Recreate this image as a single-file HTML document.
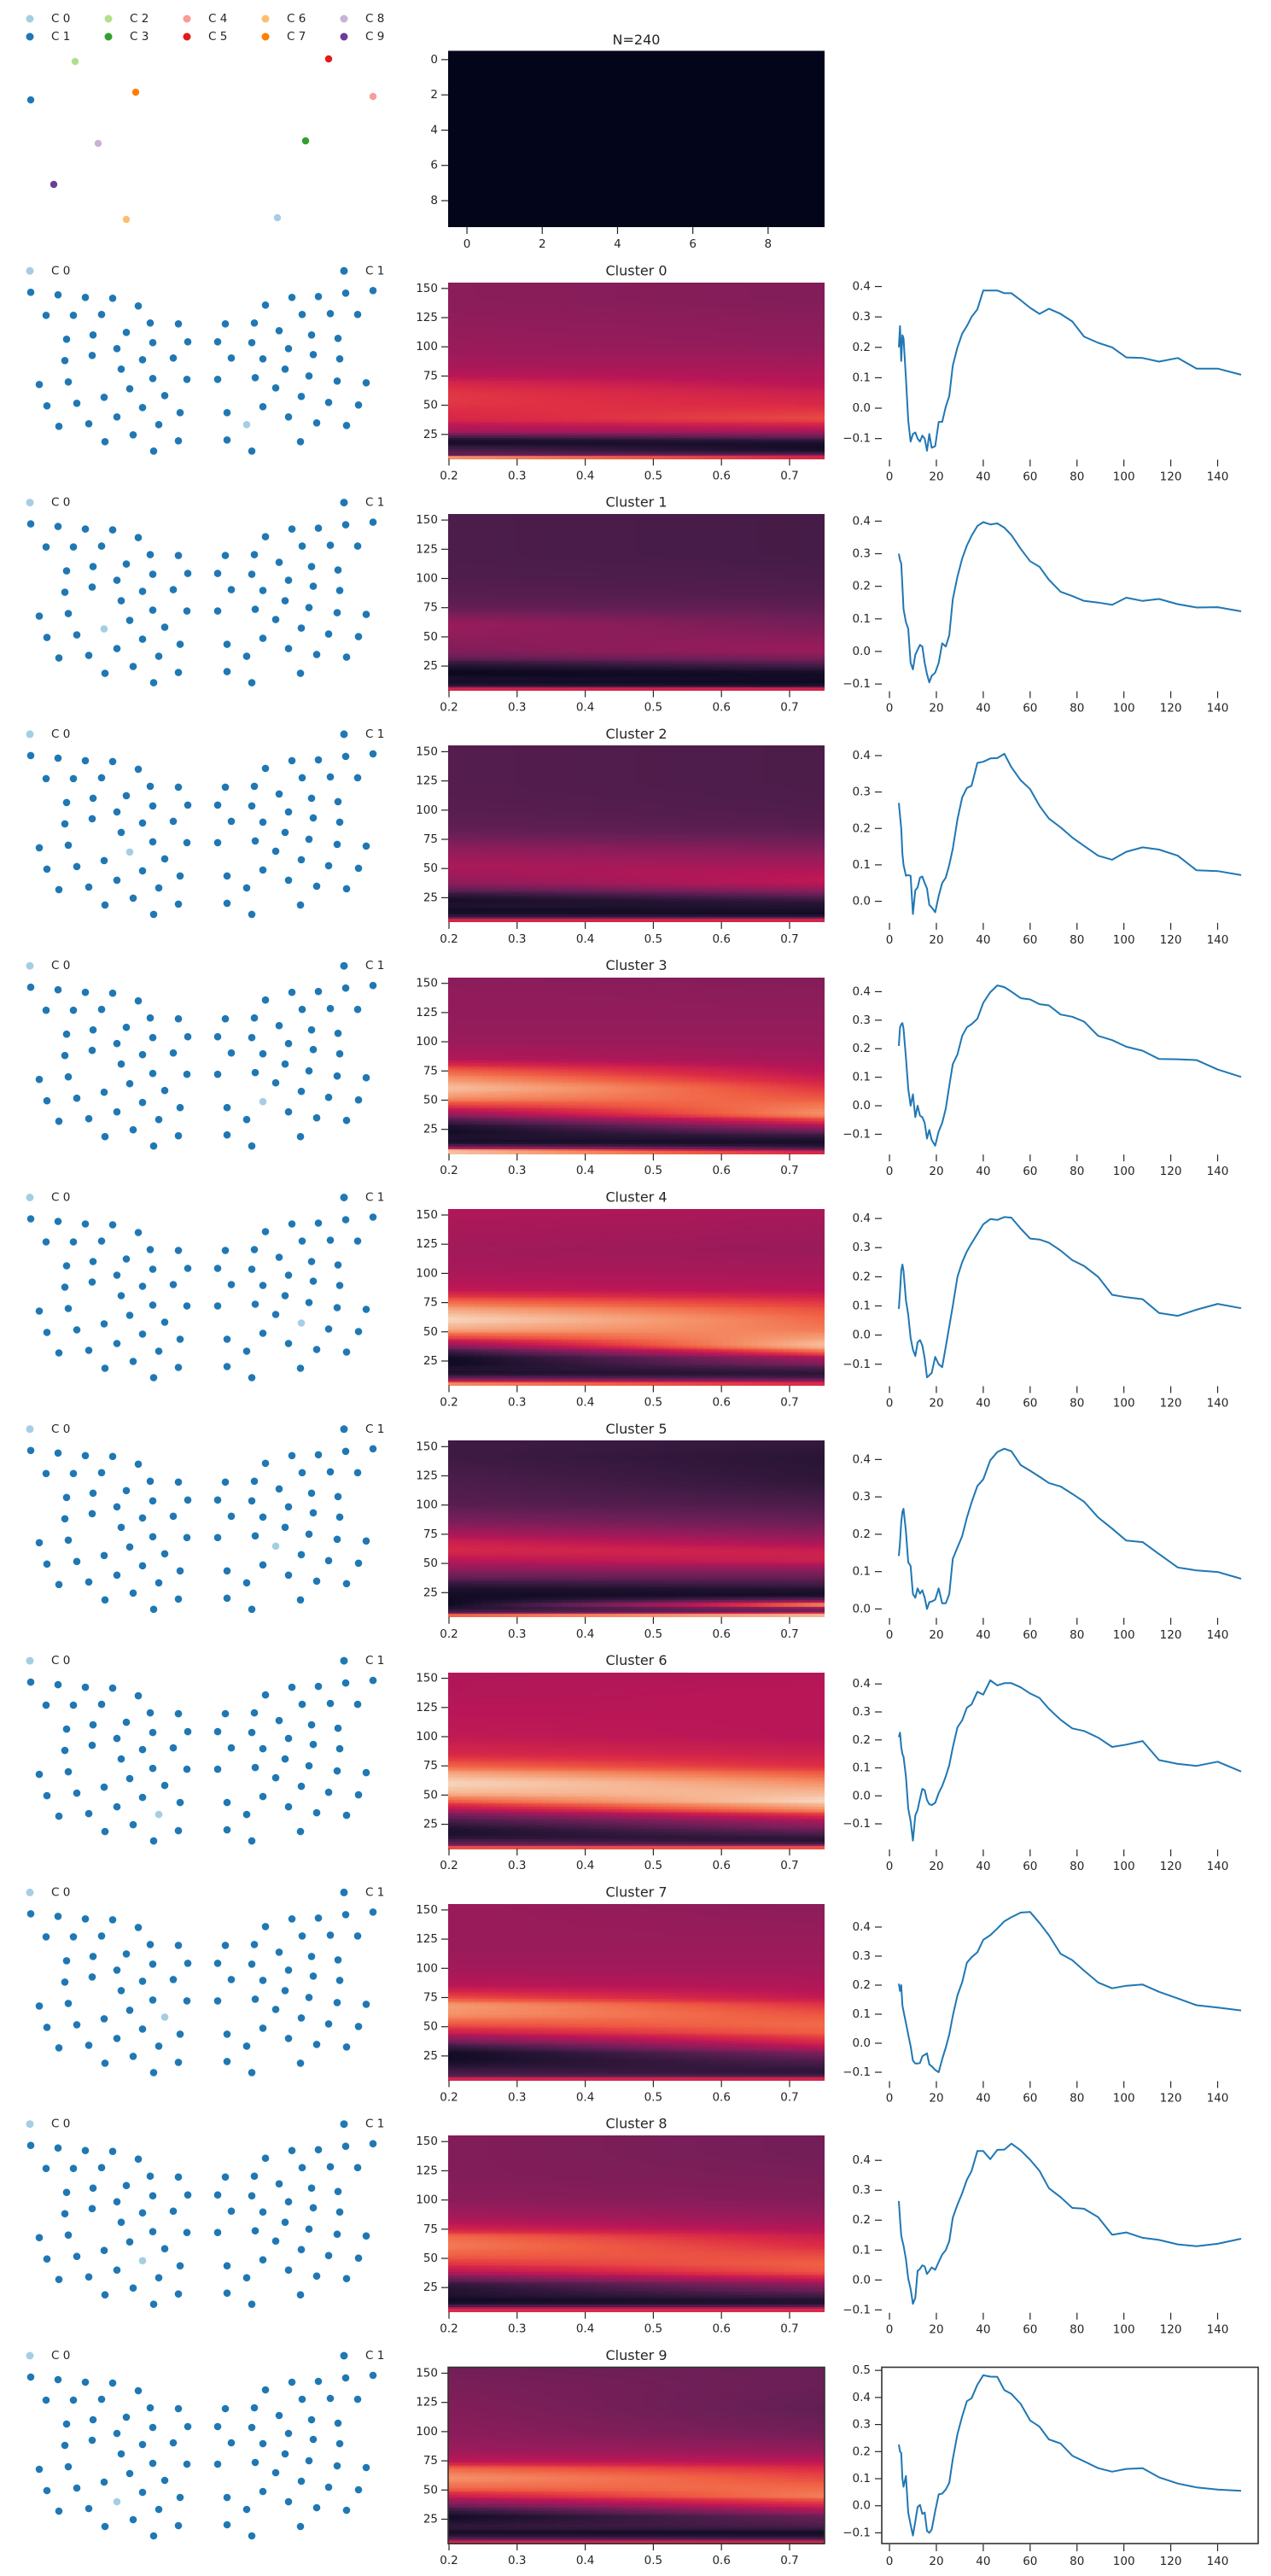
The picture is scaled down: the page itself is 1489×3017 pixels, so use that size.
<!DOCTYPE html>
<html><head><meta charset="utf-8"><title>Cluster figure</title>
<style>
html,body{margin:0;padding:0;background:#fff;}
#root{position:relative;width:1489px;height:3017px;overflow:hidden;background:#fff;}
canvas{position:absolute;}
#fig{position:absolute;left:0;top:0;}
text{font-family:"DejaVu Sans","Liberation Sans",sans-serif;fill:#262626;}
</style></head>
<body>
<div id="root">
<svg id="fig" width="1489" height="3017" xmlns="http://www.w3.org/2000/svg"></svg>
</div>
<script>
// ---------- line plot data ----------
const freqs=[4,4.5,5,5.5,6,7,8,9,10,11,12,13,14,15,16,17,18,19.5,21,22.5,24,25.5,27,29,31,33,35,37.5,40,43,46,49,52,56,60,64,68,73,78,83,89,95,101,108,115,123,131,140,150];
const corr0=[0.20,0.27,0.155,0.24,0.23,0.10,-0.04,-0.11,-0.085,-0.08,-0.10,-0.11,-0.09,-0.10,-0.14,-0.085,-0.13,-0.125,-0.045,-0.045,0.005,0.04,0.14,0.20,0.245,0.27,0.30,0.325,0.387,0.387,0.387,0.378,0.378,0.355,0.33,0.31,0.327,0.31,0.285,0.235,0.215,0.20,0.167,0.165,0.153,0.165,0.13,0.13,0.11];
const corr1=[0.30,0.28,0.27,0.20,0.13,0.09,0.07,-0.035,-0.055,-0.01,0.005,0.02,0.015,-0.035,-0.07,-0.095,-0.075,-0.065,-0.035,0.025,0.015,0.05,0.16,0.23,0.285,0.325,0.355,0.385,0.397,0.39,0.393,0.38,0.357,0.315,0.277,0.26,0.22,0.183,0.17,0.155,0.15,0.143,0.165,0.155,0.161,0.145,0.135,0.136,0.123];
const corr2=[0.27,0.235,0.20,0.13,0.10,0.07,0.072,0.07,-0.035,0.03,0.038,0.065,0.068,0.05,0.035,-0.01,-0.017,-0.03,0.015,0.05,0.065,0.10,0.144,0.225,0.285,0.311,0.317,0.38,0.383,0.392,0.393,0.405,0.368,0.332,0.308,0.262,0.227,0.203,0.175,0.152,0.125,0.114,0.136,0.148,0.142,0.125,0.085,0.083,0.072];
const corr3=[0.21,0.275,0.285,0.29,0.27,0.17,0.06,0.0,0.04,-0.04,0.0,-0.035,-0.04,-0.06,-0.115,-0.085,-0.12,-0.14,-0.09,-0.06,-0.01,0.07,0.146,0.18,0.245,0.275,0.286,0.305,0.361,0.398,0.422,0.416,0.40,0.377,0.373,0.356,0.352,0.32,0.312,0.295,0.245,0.23,0.207,0.193,0.164,0.163,0.16,0.127,0.101];
const corr4=[0.09,0.15,0.22,0.242,0.22,0.12,0.07,-0.01,-0.05,-0.072,-0.025,-0.017,-0.035,-0.08,-0.145,-0.138,-0.13,-0.075,-0.10,-0.11,-0.04,0.03,0.10,0.20,0.25,0.287,0.315,0.347,0.38,0.398,0.395,0.405,0.403,0.365,0.331,0.328,0.317,0.29,0.257,0.237,0.20,0.138,0.13,0.123,0.076,0.066,0.087,0.107,0.092];
const corr5=[0.142,0.178,0.232,0.26,0.268,0.208,0.125,0.115,0.04,0.03,0.055,0.041,0.05,0.03,0.0,0.018,0.02,0.025,0.055,0.015,0.015,0.04,0.134,0.165,0.195,0.244,0.285,0.329,0.347,0.398,0.42,0.429,0.422,0.385,0.37,0.354,0.337,0.328,0.308,0.287,0.245,0.215,0.183,0.179,0.147,0.111,0.103,0.099,0.081];
const corr6=[0.21,0.226,0.175,0.15,0.14,0.07,-0.045,-0.09,-0.16,-0.07,-0.05,-0.01,0.025,0.02,-0.015,-0.03,-0.033,-0.025,0.01,0.035,0.07,0.11,0.173,0.245,0.27,0.315,0.327,0.372,0.362,0.413,0.395,0.403,0.403,0.388,0.366,0.35,0.311,0.272,0.241,0.232,0.208,0.175,0.183,0.196,0.128,0.114,0.107,0.122,0.087];
const corr7=[0.205,0.18,0.20,0.13,0.11,0.07,0.03,-0.01,-0.06,-0.07,-0.07,-0.068,-0.045,-0.04,-0.035,-0.073,-0.079,-0.092,-0.10,-0.055,-0.015,0.03,0.094,0.165,0.21,0.277,0.296,0.313,0.356,0.372,0.395,0.42,0.434,0.45,0.452,0.414,0.372,0.308,0.286,0.25,0.209,0.189,0.198,0.202,0.177,0.154,0.131,0.123,0.113];
const corr8=[0.264,0.203,0.15,0.13,0.115,0.07,0.005,-0.03,-0.08,-0.06,0.03,0.037,0.049,0.045,0.02,0.03,0.042,0.034,0.06,0.085,0.10,0.13,0.208,0.252,0.29,0.335,0.364,0.431,0.431,0.404,0.435,0.436,0.456,0.433,0.402,0.365,0.307,0.277,0.241,0.238,0.21,0.151,0.159,0.141,0.134,0.119,0.113,0.121,0.138];
const corr9=[0.226,0.20,0.195,0.10,0.07,0.11,-0.025,-0.07,-0.11,-0.058,-0.005,0.003,-0.03,-0.025,-0.093,-0.10,-0.088,-0.02,0.042,0.045,0.06,0.085,0.172,0.265,0.33,0.386,0.397,0.447,0.482,0.477,0.476,0.427,0.413,0.376,0.315,0.292,0.245,0.23,0.185,0.164,0.139,0.126,0.136,0.139,0.105,0.082,0.068,0.06,0.055];
const lineXTicks=[0,20,40,60,80,100,120,140];

// ---------- heatmap data (colour level 0..1 at anchor frequencies, early & late time) ----------
const hmFreqs=[155,140,120,100,85,75,68,60,52,45,38,32,27,22,18,14,10,7,5];
const hm0Early=[0.38,0.38,0.40,0.42,0.45,0.50,0.58,0.62,0.62,0.60,0.58,0.50,0.45,0.15,0.05,0.15,0.25,0.30,0.85];
const hm0Late =[0.36,0.36,0.38,0.40,0.45,0.48,0.50,0.55,0.58,0.62,0.66,0.55,0.45,0.25,0.08,0.05,0.08,0.40,0.60];
const hm1Early=[0.22,0.22,0.22,0.23,0.25,0.28,0.35,0.42,0.40,0.38,0.36,0.30,0.15,0.05,0.02,0.08,0.05,0.20,0.60];
const hm1Late =[0.20,0.20,0.20,0.22,0.24,0.27,0.30,0.33,0.36,0.40,0.42,0.35,0.25,0.12,0.05,0.05,0.03,0.15,0.60];
const hm2Early=[0.24,0.24,0.24,0.25,0.27,0.32,0.38,0.42,0.46,0.44,0.40,0.30,0.15,0.05,0.10,0.05,0.08,0.30,0.60];
const hm2Late =[0.22,0.22,0.22,0.23,0.25,0.30,0.35,0.40,0.45,0.50,0.52,0.42,0.30,0.15,0.10,0.08,0.03,0.30,0.60];
const hm3Early=[0.38,0.40,0.40,0.42,0.48,0.70,0.80,0.90,0.80,0.62,0.42,0.20,0.08,0.05,0.10,0.04,0.30,0.90,0.90];
const hm3Late =[0.36,0.38,0.40,0.42,0.45,0.50,0.55,0.62,0.68,0.75,0.80,0.62,0.45,0.25,0.12,0.06,0.12,0.40,0.60];
const hm4Early=[0.48,0.46,0.44,0.46,0.52,0.72,0.85,0.95,0.85,0.65,0.40,0.15,0.05,0.04,0.10,0.06,0.30,0.60,0.80];
const hm4Late =[0.46,0.44,0.42,0.46,0.50,0.62,0.68,0.72,0.75,0.82,0.90,0.70,0.45,0.35,0.20,0.12,0.20,0.50,0.60];
const hm5Early=[0.18,0.18,0.22,0.25,0.35,0.45,0.55,0.58,0.50,0.40,0.30,0.15,0.08,0.05,0.04,0.04,0.12,0.30,0.75];
const hm5Late =[0.16,0.12,0.14,0.22,0.30,0.38,0.45,0.55,0.55,0.40,0.30,0.20,0.10,0.06,0.30,0.90,0.20,0.60,0.90];
const hm6Early=[0.48,0.48,0.50,0.52,0.58,0.70,0.85,0.95,0.88,0.70,0.50,0.30,0.20,0.10,0.08,0.10,0.25,0.35,0.70];
const hm6Late =[0.48,0.50,0.50,0.50,0.55,0.60,0.70,0.80,0.88,0.95,0.80,0.58,0.45,0.35,0.25,0.15,0.10,0.40,0.70];
const hm7Early=[0.42,0.42,0.42,0.44,0.50,0.65,0.82,0.80,0.68,0.55,0.35,0.15,0.05,0.05,0.08,0.15,0.20,0.30,0.60];
const hm7Late =[0.38,0.40,0.42,0.44,0.48,0.52,0.62,0.68,0.72,0.70,0.60,0.50,0.35,0.25,0.20,0.15,0.12,0.30,0.60];
const hm8Early=[0.36,0.36,0.36,0.38,0.45,0.55,0.72,0.75,0.70,0.62,0.50,0.30,0.15,0.10,0.10,0.03,0.10,0.50,0.60];
const hm8Late =[0.32,0.32,0.34,0.36,0.42,0.48,0.55,0.60,0.66,0.70,0.68,0.55,0.40,0.30,0.20,0.10,0.10,0.50,0.60];
const hm9Early=[0.32,0.34,0.36,0.38,0.42,0.50,0.72,0.80,0.72,0.55,0.35,0.15,0.05,0.10,0.15,0.05,0.15,0.40,0.60];
const hm9Late =[0.30,0.30,0.28,0.32,0.40,0.50,0.60,0.66,0.72,0.76,0.60,0.45,0.30,0.25,0.20,0.05,0.10,0.40,0.60];
const hmYTicks=[25,50,75,100,125,150];
const hmXTicks=[0.2,0.3,0.4,0.5,0.6,0.7];
const topXTicks=[0,2,4,6,8];

// ---------- scatter data ----------
const legendNames=["C 0","C 1","C 2","C 3","C 4","C 5","C 6","C 7","C 8","C 9"];
const centroidX=[325,36,88,358,437,385,148,159,115,63];
const centroidY=[255,117,72,165,113,69,257,108,168,216];
const sensorX=[36,68,100,132,162,54,86,119,176,209,264,298,311,342,373,405,437,354,387,419,78,109,148,179,220,255,295,327,365,396,137,76,108,167,203,271,308,338,367,398,142,334,46,80,179,219,255,299,362,395,429,152,323,193,122,353,55,90,167,211,266,308,385,420,137,338,69,104,186,289,371,406,156,209,266,352,123,180,295];
const sensorY=[25,28,31,32,41,52,52,51,61,62,62,61,40,31,30,26,23,51,50,51,80,75,72,84,83,83,84,70,75,79,91,105,99,104,102,102,103,91,98,103,115,115,133,130,126,127,127,125,123,129,131,138,137,146,148,147,158,155,160,166,166,159,154,157,171,171,182,179,180,180,178,181,192,199,198,200,200,211,211];
const highlightIdx=[69,54,51,61,55,52,68,53,58,64];

// ---------- layout ----------
const NS="http://www.w3.org/2000/svg";
const svg=document.getElementById('fig');
const root=document.getElementById('root');
const PAL=["#a6cee3","#1f78b4","#b2df8a","#33a02c","#fb9a99","#e31a1c","#fdbf6f","#ff7f00","#cab2d6","#6a3d9a"];
const ROW0=59.5, PITCH=271.3, AH=206.5;
const HM_L=525, HM_W=441, LN_L=1033, LN_W=441;
const TXT="#262626";
function axTop(r){return ROW0+PITCH*r;}
function el(tag,attrs,parent){const e=document.createElementNS(NS,tag);for(const k in attrs)e.setAttribute(k,attrs[k]);(parent||svg).appendChild(e);return e;}
function txt(x,y,s,anchor,size,parent){const t=el('text',{x:x,y:y,'text-anchor':anchor,'font-size':size,'dominant-baseline':'central'},parent);t.textContent=s;return t;}
function fmt(v){const r=Math.round(v*10)/10;const s=Math.abs(r).toFixed(1);return (r<0?"\u2212":"")+s;}

// rocket colormap
const ROCKET=[[3,5,26],[34,19,49],[69,28,71],[106,31,86],[146,28,91],[185,22,87],[221,44,69],[240,96,67],[245,147,106],[246,193,161],[250,235,221]];
function rocket(v){v=Math.max(0,Math.min(1,v));const p=v*10;const i=Math.min(9,Math.floor(p));const f=p-i;const a=ROCKET[i],b=ROCKET[i+1];return 'rgb('+Math.round(a[0]+(b[0]-a[0])*f)+','+Math.round(a[1]+(b[1]-a[1])*f)+','+Math.round(a[2]+(b[2]-a[2])*f)+')';}
function profileAt(prof,f){for(let i=0;i<hmFreqs.length-1;i++){const f0=hmFreqs[i],f1=hmFreqs[i+1];if(f<=f0&&f>=f1){const t=(f0-f)/(f0-f1);return prof[i]+(prof[i+1]-prof[i])*t;}}return f>hmFreqs[0]?prof[0]:prof[prof.length-1];}

// ---------- top row: centroid scatter ----------
(function(){
  const g=el('g',{});
  
  
  for(let i=0;i<10;i++){
    const col=Math.floor(i/2), row=i%2;
    const lx=35+col*92, ly=22+row*21;
    const lg=el('g',{},g);
    
    
    el('circle',{cx:lx,cy:ly,r:4.5,fill:PAL[i]},lg);
    txt(lx+25,ly,legendNames[i],'start',13.5,lg);
  }
  for(let i=0;i<10;i++){
    const c=el('circle',{cx:centroidX[i],cy:centroidY[i],r:4.5,fill:PAL[i],stroke:'#fff','stroke-width':0.6},g);
    
    
  }
})();

// ---------- top row: N=240 heatmap ----------
(function(){
  const t=ROW0;
  const g=el('g',{});
  
  
  const r=el('rect',{x:HM_L,y:t,width:HM_W,height:AH,fill:'#03051a'},g);
  
  
  const tt=txt(HM_L+HM_W/2,t-13,'N=240','middle',16,g);
  
  
  const cw=HM_W/10, ch=AH/10;
  for(const v of topXTicks){
    const x=HM_L+(v+0.5)*cw;
    el('line',{x1:x,y1:t+AH,x2:x,y2:t+AH+8,stroke:TXT,'stroke-width':1.2},g);
    txt(x,t+AH+20,String(v),'middle',13.5,g);
    const y=t+(v+0.5)*ch;
    el('line',{x1:HM_L-8,y1:y,x2:HM_L,y2:y,stroke:TXT,'stroke-width':1.2},g);
    txt(HM_L-12,y,String(v),'end',13.5,g);
  }
})();

// ---------- cluster rows ----------
const lineSeries=[corr0,corr1,corr2,corr3,corr4,corr5,corr6,corr7,corr8,corr9];
const hmEarly=[hm0Early,hm1Early,hm2Early,hm3Early,hm4Early,hm5Early,hm6Early,hm7Early,hm8Early,hm9Early];
const hmLate=[hm0Late,hm1Late,hm2Late,hm3Late,hm4Late,hm5Late,hm6Late,hm7Late,hm8Late,hm9Late];

for(let c=0;c<10;c++){
  const t=axTop(c+1);
  // --- sensor scatter ---
  const sg=el('g',{});
  
  
  const ly=t-13.5;
  const l0=el('g',{},sg);
  
  
  el('circle',{cx:35,cy:ly,r:4.5,fill:PAL[0]},l0);
  txt(60,ly,'C 0','start',13.5,l0);
  const l1=el('g',{},sg);
  
  
  el('circle',{cx:403,cy:ly,r:4.5,fill:PAL[1]},l1);
  txt(428,ly,'C 1','start',13.5,l1);
  for(let i=0;i<sensorX.length;i++){
    const hi=(i===highlightIdx[c]);
    const p=el('circle',{cx:sensorX[i],cy:ly+sensorY[i],r:4.6,fill:hi?PAL[0]:PAL[1],stroke:'#fff','stroke-width':0.6},sg);
    
    
  }

  // --- spectrogram heatmap (canvas) ---
  const cv=document.createElement('canvas');
  cv.width=HM_W;cv.height=Math.round(AH);
  cv.style.left=HM_L+'px';cv.style.top=t+'px';
  
  
  root.insertBefore(cv,svg);
  const ctx=cv.getContext('2d');
  const nCols=56,nRows=76,fTop=155.1,fBot=4.2;
  for(let j=0;j<nCols;j++){
    const tf=j/(nCols-1);
    for(let k=0;k<nRows;k++){
      const f=fTop-(k+0.5)*(fTop-fBot)/nRows;
      const v=profileAt(hmEarly[c],f)*(1-tf)+profileAt(hmLate[c],f)*tf;
      ctx.fillStyle=rocket(v);
      const x0=Math.floor(j*HM_W/nCols),x1=Math.ceil((j+1)*HM_W/nCols);
      const y0=Math.floor(k*AH/nRows),y1=Math.ceil((k+1)*AH/nRows);
      ctx.fillRect(x0,y0,x1-x0,y1-y0);
    }
  }
  const hg=el('g',{});
  
  
  const title=txt(HM_L+HM_W/2,t-14,'Cluster '+c,'middle',16,hg);
  
  
  const hy=v=>t+178-(v-25)*1.368;
  const hx=v=>526+(v-0.2)*798;
  for(const v of hmYTicks){
    const y=hy(v);
    el('line',{x1:HM_L-8,y1:y,x2:HM_L,y2:y,stroke:TXT,'stroke-width':1.2},hg);
    txt(HM_L-12,y,String(v),'end',13.5,hg);
  }
  for(const v of hmXTicks){
    const x=hx(v);
    el('line',{x1:x,y1:t+AH,x2:x,y2:t+AH+8,stroke:TXT,'stroke-width':1.2},hg);
    txt(x,t+AH+20,v.toFixed(1),'middle',13.5,hg);
  }
  if(c===9){
    el('rect',{x:HM_L,y:t,width:HM_W,height:AH,fill:'none',stroke:'#333','stroke-width':1.6},hg);
  }

  // --- correlation line plot ---
  const data=lineSeries[c];
  let mn=Infinity,mx=-Infinity;for(const v of data){mn=Math.min(mn,v);mx=Math.max(mx,v);}
  const pad=(mx-mn)*0.05, lo=mn-pad, hi=mx+pad;
  const xlo=freqs[0]-(freqs[freqs.length-1]-freqs[0])*0.05, xhi=freqs[freqs.length-1]+(freqs[freqs.length-1]-freqs[0])*0.05;
  const X=v=>LN_L+(v-xlo)/(xhi-xlo)*LN_W;
  const Y=v=>t+AH-(v-lo)/(hi-lo)*AH;
  const lg=el('g',{});
  
  
  for(let k=Math.ceil(lo*10-1e-9);k<=Math.floor(hi*10+1e-9);k++){
    const v=k/10,y=Y(v);
    el('line',{x1:LN_L-8,y1:y,x2:LN_L,y2:y,stroke:TXT,'stroke-width':1.2},lg);
    txt(LN_L-13,y,fmt(v),'end',13.5,lg);
  }
  for(const v of lineXTicks){
    const x=X(v);
    el('line',{x1:x,y1:t+AH+1,x2:x,y2:t+AH+9,stroke:TXT,'stroke-width':1.2},lg);
    txt(x,t+AH+21,String(v),'middle',13.5,lg);
  }
  let d='';
  for(let i=0;i<freqs.length;i++){d+=(i?'L':'M')+X(freqs[i]).toFixed(1)+','+Y(data[i]).toFixed(1);}
  const path=el('path',{d:d,fill:'none',stroke:'#1f77b4','stroke-width':2,'stroke-linejoin':'round'},lg);
  
  
  if(c===9){
    el('rect',{x:LN_L,y:t,width:LN_W,height:AH,fill:'none',stroke:'#333','stroke-width':1.6},lg);
  }
}
</script>
</body></html>
